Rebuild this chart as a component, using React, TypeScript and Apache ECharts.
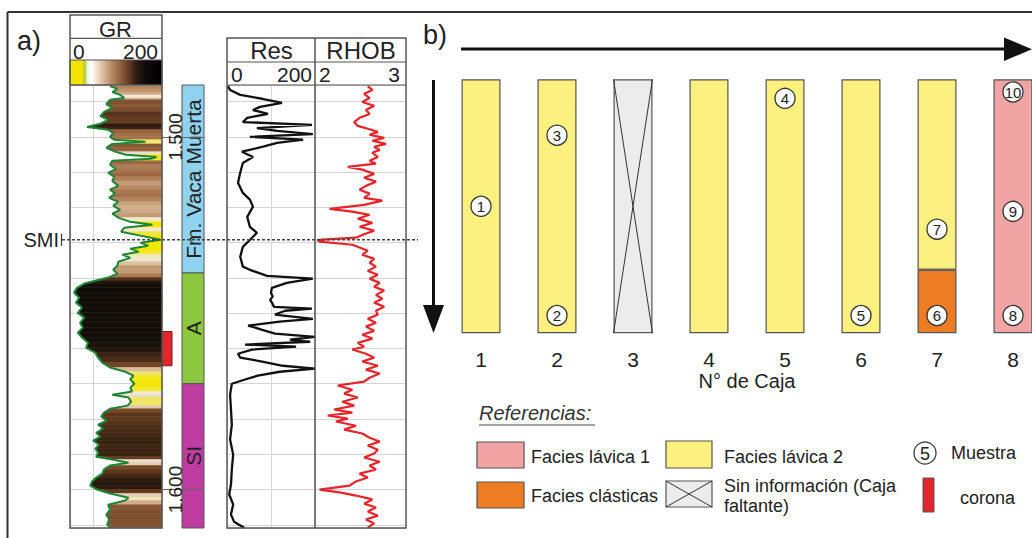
import React, { useEffect, useRef } from 'react';
import * as echarts from 'echarts';

const FONT = '"Liberation Sans", Arial, Helvetica, sans-serif';

// ---- depth axis (m) ----
const DEPTH_MIN = 1485.3;
const DEPTH_MAX = 1610.9;
const DEPTH_LABELS = [1500, 1600];
const SMI_DEPTH = 1529.2;

// ---- GR log (API) ----
const GR_DEPTH = [1485.6, 1486.4, 1487.3, 1488.1, 1489.0, 1489.5, 1490.7, 1491.8, 1492.9, 1494.1, 1495.2, 1496.3, 1497.2, 1498.0, 1498.9, 1500.0, 1500.8, 1501.4, 1502.0, 1503.1, 1504.2, 1505.1, 1505.7, 1506.2, 1506.8, 1507.9, 1509.1, 1510.2, 1511.3, 1512.5, 1513.9, 1515.0, 1516.1, 1517.3, 1518.4, 1519.5, 1520.7, 1521.8, 1522.9, 1524.1, 1524.9, 1525.8, 1526.9, 1528.0, 1529.2, 1530.0, 1530.9, 1531.7, 1532.6, 1533.4, 1534.3, 1535.4, 1536.5, 1537.7, 1538.8, 1539.9, 1540.8, 1541.6, 1542.8, 1544.2, 1545.6, 1547.0, 1548.4, 1549.9, 1551.3, 1552.7, 1554.1, 1555.5, 1556.9, 1558.4, 1559.8, 1561.2, 1562.6, 1564.0, 1565.4, 1566.6, 1567.7, 1568.8, 1570.0, 1571.1, 1572.2, 1573.1, 1573.9, 1575.1, 1576.2, 1577.1, 1578.2, 1579.3, 1580.5, 1581.6, 1582.7, 1583.9, 1585.0, 1586.1, 1587.3, 1588.4, 1589.5, 1590.7, 1591.5, 1592.4, 1593.2, 1594.3, 1595.5, 1596.6, 1597.7, 1598.9, 1600.0, 1601.1, 1602.3, 1603.1, 1604.3, 1605.7, 1607.1, 1608.5, 1609.9, 1610.8];
const GR_VALUE = [113, 97, 108, 91, 82, 113, 121, 108, 126, 134, 117, 134, 163, 117, 106, 113, 104, 36, 108, 121, 102, 78, 12, 25, 108, 113, 100, 117, 104, 108, 95, 113, 102, 115, 95, 106, 91, 108, 95, 69, 21, 82, 89, 47, 3, 47, 30, 69, 51, 86, 69, 95, 97, 106, 97, 117, 145, 169, 185, 191, 180, 187, 174, 183, 169, 178, 172, 183, 174, 161, 165, 145, 139, 130, 113, 80, 62, 69, 60, 69, 65, 108, 73, 67, 75, 113, 126, 132, 121, 139, 128, 143, 134, 150, 137, 145, 139, 143, 108, 73, 113, 126, 130, 143, 152, 156, 141, 113, 73, 80, 117, 113, 121, 115, 119, 113];

// ---- Resistivity (ohm.m) ----
const RES_DEPTH = [1485.6, 1486.7, 1488.1, 1489.2, 1490.4, 1491.5, 1492.4, 1493.5, 1494.6, 1495.8, 1496.6, 1497.5, 1498.3, 1499.2, 1500.0, 1500.8, 1501.7, 1502.8, 1504.2, 1505.7, 1507.4, 1510.2, 1513.0, 1515.9, 1517.8, 1519.8, 1522.7, 1525.5, 1527.2, 1528.6, 1531.2, 1534.0, 1536.8, 1537.7, 1539.4, 1540.2, 1541.4, 1542.8, 1544.2, 1545.3, 1546.2, 1547.0, 1548.2, 1548.7, 1549.3, 1550.4, 1551.6, 1552.4, 1553.5, 1554.7, 1555.8, 1556.7, 1557.5, 1558.1, 1558.9, 1559.5, 1560.3, 1561.5, 1562.6, 1563.7, 1564.9, 1565.7, 1566.6, 1567.7, 1568.8, 1570.0, 1573.1, 1577.3, 1581.6, 1585.8, 1590.1, 1594.3, 1598.6, 1601.4, 1604.2, 1607.1, 1609.1, 1610.8];
const RES_VALUE = [2, 7, 30, 80, 125, 75, 59, 93, 46, 36, 193, 68, 114, 195, 52, 173, 114, 82, 34, 59, 36, 30, 25, 36, 52, 59, 46, 52, 68, 57, 36, 30, 36, 52, 91, 195, 136, 102, 100, 104, 98, 102, 107, 193, 132, 109, 195, 120, 48, 80, 109, 200, 143, 189, 41, 157, 57, 25, 30, 80, 127, 200, 120, 70, 41, 11, 7, 9, 11, 7, 14, 11, 9, 5, 14, 9, 16, 39];

// ---- Bulk density (g/cm3) ----
const RHOB_DEPTH = [1485.6, 1486.7, 1487.8, 1489.0, 1490.1, 1491.2, 1492.4, 1493.5, 1494.6, 1495.8, 1496.9, 1497.7, 1498.6, 1499.4, 1500.3, 1501.1, 1502.0, 1502.8, 1503.7, 1504.5, 1505.7, 1506.8, 1507.6, 1508.5, 1509.3, 1510.5, 1511.6, 1512.7, 1513.9, 1515.0, 1516.1, 1517.3, 1518.1, 1519.3, 1520.4, 1521.2, 1522.1, 1523.2, 1524.4, 1525.5, 1526.6, 1527.8, 1528.6, 1529.2, 1529.7, 1530.6, 1531.4, 1532.3, 1533.4, 1534.6, 1535.7, 1536.8, 1538.0, 1539.1, 1540.2, 1541.4, 1542.5, 1543.6, 1544.8, 1545.9, 1547.0, 1548.2, 1549.3, 1550.4, 1551.6, 1552.7, 1553.8, 1555.0, 1556.1, 1557.2, 1558.4, 1559.5, 1560.3, 1561.5, 1562.6, 1563.7, 1564.9, 1566.0, 1567.1, 1568.3, 1569.4, 1570.5, 1571.7, 1572.8, 1573.9, 1575.1, 1576.2, 1577.3, 1578.2, 1579.0, 1579.9, 1580.7, 1581.9, 1583.0, 1584.1, 1585.3, 1586.4, 1587.5, 1588.7, 1589.8, 1590.9, 1592.1, 1593.2, 1594.3, 1595.5, 1596.6, 1597.7, 1598.9, 1600.0, 1600.8, 1601.7, 1602.8, 1604.0, 1605.1, 1606.2, 1607.4, 1608.5, 1609.6, 1610.8];
const RHOB_VALUE = [2.58, 2.63, 2.54, 2.60, 2.52, 2.65, 2.56, 2.60, 2.49, 2.43, 2.47, 2.58, 2.69, 2.60, 2.76, 2.63, 2.78, 2.65, 2.71, 2.63, 2.69, 2.60, 2.67, 2.36, 2.52, 2.65, 2.54, 2.67, 2.56, 2.49, 2.60, 2.54, 2.74, 2.54, 2.16, 2.41, 2.60, 2.47, 2.63, 2.49, 2.65, 2.52, 2.45, 2.03, 2.05, 2.41, 2.49, 2.58, 2.52, 2.65, 2.60, 2.67, 2.58, 2.69, 2.60, 2.71, 2.65, 2.76, 2.67, 2.74, 2.65, 2.76, 2.67, 2.69, 2.58, 2.67, 2.56, 2.65, 2.52, 2.63, 2.47, 2.54, 2.41, 2.56, 2.65, 2.52, 2.69, 2.56, 2.71, 2.60, 2.54, 2.25, 2.41, 2.32, 2.47, 2.30, 2.43, 2.21, 2.41, 2.14, 2.36, 2.23, 2.45, 2.32, 2.52, 2.60, 2.71, 2.58, 2.69, 2.65, 2.54, 2.71, 2.60, 2.67, 2.49, 2.58, 2.45, 2.38, 2.05, 2.27, 2.45, 2.63, 2.54, 2.67, 2.58, 2.69, 2.56, 2.65, 2.58];

// ---- formations / core ----
const FORMATION_NAMES = ['Fm. Vaca Muerta', 'A', 'SI'];
const FORMATION_TOP = [1485.3, 1538.6, 1570.0];
const FORMATION_BASE = [1538.6, 1570.0, 1610.9];
const FORMATION_COLORS = ['#8fd3f1', '#8dc63f', '#bf3da0'];
const CORONA_TOP = 1555.2;
const CORONA_BASE = 1564.9;

// ---- core boxes (b) : % of box length from top ----
const BOXES = ['1', '2', '3', '4', '5', '6', '7', '8'];
const LAVA2 = [100, 100, '-', 100, 100, 100, 75, '-'];
const CLASTIC = ['-', '-', '-', '-', '-', '-', 25, '-'];
const MISSING = ['-', '-', 100, '-', '-', '-', '-', '-'];
const LAVA1 = ['-', '-', '-', '-', '-', '-', '-', 100];
const SAMPLE_ID = [1, 2, 3, 4, 5, 6, 7, 8, 9, 10];
const SAMPLE_BOX = ['1', '2', '2', '5', '6', '7', '7', '8', '8', '8'];
const SAMPLE_POS = [50, 93, 22, 7.5, 93, 93, 59, 93, 52, 5];

const C_LAVA1 = '#f2a3a3';
const C_LAVA2 = '#fcf07e';
const C_CLASTIC = '#ee7c22';
const C_MISSING = '#ececec';

const GR_STOPS: [number, string][] = [
  [0, '#f3e600'], [64, '#f3e600'], [76, '#eee8b4'], [88, '#f2e9de'], [96, '#dcc0a0'],
  [104, '#b88a62'], [112, '#94603a'], [122, '#6e4224'], [134, '#4a2c16'], [150, '#2a1a0d'], [165, '#16100a'], [200, '#0c0806'],
];

function hexToRgb(h: string) {
  return [parseInt(h.slice(1, 3), 16), parseInt(h.slice(3, 5), 16), parseInt(h.slice(5, 7), 16)];
}
function grColor(v: number) {
  if (v <= GR_STOPS[0][0]) return GR_STOPS[0][1];
  for (let i = 1; i < GR_STOPS.length; i++) {
    if (v <= GR_STOPS[i][0]) {
      const [a, ca] = GR_STOPS[i - 1];
      const [b, cb] = GR_STOPS[i];
      const t = (v - a) / (b - a);
      const A = hexToRgb(ca), B = hexToRgb(cb);
      const c = A.map((x, k) => Math.round(x + (B[k] - x) * t));
      return `rgb(${c[0]},${c[1]},${c[2]})`;
    }
  }
  return GR_STOPS[GR_STOPS.length - 1][1];
}

const depthLabel = (v: number) => {
  const s = String(Math.round(v));
  return s.slice(0, s.length - 3) + '.' + s.slice(-3);
};

const txt = (id: string, x: number, y: number, text: string, fontSize: number, extra: any = {}) => ({
  id, type: 'text', x, y, z: 100,
  style: { text, fontSize, fontFamily: FONT, fill: '#222', align: 'left', verticalAlign: 'middle', ...extra },
});
const ln = (id: string, x1: number, y1: number, x2: number, y2: number, stroke = '#555', lineWidth = 1.2, extra: any = {}) => ({
  id, type: 'line', z: 100, shape: { x1, y1, x2, y2 }, style: { stroke, lineWidth, ...extra },
});
const rc = (id: string, x: number, y: number, w: number, h: number, fill: any, stroke = '#555', lineWidth = 1.2, z = 100) => ({
  id, type: 'rect', z, shape: { x, y, width: w, height: h }, style: { fill, stroke, lineWidth },
});

function depthAxis(gridIndex: number) {
  return {
    gridIndex, type: 'value', min: DEPTH_MIN, max: DEPTH_MAX, inverse: true,
    splitNumber: 12, minInterval: 10, maxInterval: 10,
    axisLine: { show: false }, axisTick: { show: false }, axisLabel: { show: false },
    splitLine: { show: true, lineStyle: { color: '#d8d2d2', width: 1 } },
  };
}

function buildOption() {
  const grBar = new echarts.graphic.LinearGradient(0, 0, 1, 0, [
    { offset: 0, color: '#f5e400' }, { offset: 0.13, color: '#f5e400' }, { offset: 0.16, color: '#a8cc3c' },
    { offset: 0.19, color: '#eef3da' }, { offset: 0.23, color: '#ffffff' }, { offset: 0.3, color: '#efdcc8' },
    { offset: 0.45, color: '#b88a64' }, { offset: 0.6, color: '#7a4b2a' }, { offset: 0.72, color: '#2e1c0f' },
    { offset: 0.82, color: '#0d0907' }, { offset: 1, color: '#000000' },
  ]);

  const graphics: any[] = [
    ln('frameTop', 7.5, 12, 1032, 12, '#333', 2),
    ln('frameLeft', 7.5, 12, 7.5, 538, '#333', 2),
    txt('labA', 17, 41, 'a)', 27),
    txt('labB', 423, 35, 'b)', 27),
    // GR header
    rc('grBar', 70, 60, 92, 25, grBar, '#555', 1),
    rc('grBox', 70, 15, 92, 513, 'none', '#555', 1.5),
    ln('grL1', 70, 38.3, 162, 38.3),
    ln('grL3', 70, 85, 162, 85),
    txt('grT', 115.5, 29, 'GR', 22, { align: 'center' }),
    txt('gr0', 73, 51, '0', 21),
    txt('gr200', 158, 51, '200', 21, { align: 'right' }),
    // Res / RHOB header
    rc('rrBox', 227, 38, 179, 490, 'none', '#555', 1.5),
    ln('rrL1', 227, 62, 406, 62),
    ln('rrL2', 227, 85, 406, 85),
    ln('rrDiv', 315, 38, 315, 528, '#555', 1.5),
    txt('resT', 271.5, 50, 'Res', 24, { align: 'center' }),
    txt('rhobT', 361, 50, 'RHOB', 24, { align: 'center' }),
    txt('res0', 231, 74, '0', 21),
    txt('res200', 312, 74, '200', 21, { align: 'right' }),
    txt('rhob2', 319, 74, '2', 21),
    txt('rhob3', 400, 74, '3', 21, { align: 'right' }),
    // arrows (b)
    ln('hArrow', 461, 49, 1008, 49, '#111', 3),
    { id: 'hHead', type: 'polygon', z: 100, shape: { points: [[1004, 37.5], [1004, 61], [1032, 49.2]] }, style: { fill: '#111' } },
    ln('vArrow', 433.5, 80, 433.5, 310, '#111', 3),
    { id: 'vHead', type: 'polygon', z: 100, shape: { points: [[423, 305], [444, 305], [433.5, 333]] }, style: { fill: '#111' } },
    // legend
    txt('refT', 479, 413, 'Referencias:', 20, { fontStyle: 'italic', fill: '#333' }),
    ln('refU', 479, 425, 595, 425, '#444', 1),
    rc('lgPink', 477, 442, 47, 26, C_LAVA1),
    txt('lgPinkT', 531, 457, 'Facies lávica 1', 18),
    rc('lgYel', 666, 441, 46, 27, C_LAVA2),
    txt('lgYelT', 724, 457, 'Facies lávica 2', 18),
    { id: 'lgCirc', type: 'circle', z: 100, shape: { cx: 925, cy: 453, r: 11 }, style: { fill: '#fff', stroke: '#333', lineWidth: 1.2 } },
    txt('lgCircT', 925, 454, '5', 18, { align: 'center' }),
    txt('lgCircL', 951, 453, 'Muestra', 18),
    rc('lgOra', 477, 482, 47, 26, C_CLASTIC),
    txt('lgOraT', 531, 496, 'Facies clásticas', 18),
    rc('lgGray', 666, 481, 46, 26, C_MISSING),
    ln('lgX1', 666, 481, 712, 507, '#333', 1),
    ln('lgX2', 712, 481, 666, 507, '#333', 1),
    txt('lgGrayT1', 724, 486, 'Sin información (Caja', 18),
    txt('lgGrayT2', 724, 506, 'faltante)', 18),
    rc('lgRed', 923, 478, 11, 34, '#e3262b', '#555', 1),
    txt('lgRedT', 960, 498, 'corona', 18),
  ];

  const option: any = {
    animation: false,
    backgroundColor: '#ffffff',
    textStyle: { fontFamily: FONT },
    grid: [
      { left: 70, top: 85, width: 92, height: 443 },
      { left: 227, top: 85, width: 88, height: 443 },
      { left: 315, top: 85, width: 91, height: 443 },
      { left: 162, top: 85, width: 42, height: 443 },
      { left: 443, top: 79.3, width: 608, height: 254 },
    ],
    xAxis: [
      { gridIndex: 0, type: 'value', min: 0, max: 200, inverse: true, interval: 150, axisLine: { show: false }, axisTick: { show: false }, axisLabel: { show: false }, splitLine: { show: true, lineStyle: { color: '#d8d2d2' } } },
      { gridIndex: 1, type: 'value', min: 0, max: 200, interval: 100, axisLine: { show: false }, axisTick: { show: false }, axisLabel: { show: false }, splitLine: { show: true, lineStyle: { color: '#d8d8d8' } } },
      { gridIndex: 2, type: 'value', min: 2, max: 3, axisLine: { show: false }, axisTick: { show: false }, axisLabel: { show: false }, splitLine: { show: false } },
      { gridIndex: 3, type: 'value', min: 0, max: 42, show: false },
      {
        gridIndex: 4, type: 'category', data: BOXES,
        axisLine: { show: false }, axisTick: { show: false },
        axisLabel: { fontSize: 21, color: '#222', margin: 16, fontFamily: FONT },
        name: 'N° de Caja', nameLocation: 'middle', nameGap: 36,
        nameTextStyle: { fontSize: 20, color: '#222', fontFamily: FONT },
      },
    ],
    yAxis: [
      depthAxis(0),
      depthAxis(1),
      depthAxis(2),
      {
        gridIndex: 3, type: 'value', min: DEPTH_MIN, max: DEPTH_MAX, inverse: true, position: 'left', z: 10,
        axisLine: { show: false }, splitLine: { show: false },
        axisTick: { show: true, inside: true, length: 42, customValues: DEPTH_LABELS, lineStyle: { color: '#666', width: 1 } },
        axisLabel: { show: true, inside: true, rotate: 90, margin: 4, customValues: DEPTH_LABELS, formatter: depthLabel, fontSize: 19, color: '#222', fontFamily: FONT },
      },
      { gridIndex: 4, type: 'value', min: 0, max: 100, inverse: true, show: false },
    ],
    series: [
      {
        type: 'custom', xAxisIndex: 0, yAxisIndex: 0, silent: true, z: 2, clip: true,
        data: GR_DEPTH.slice(0, -1).map((d, i) => [GR_VALUE[i], d, GR_VALUE[i + 1], GR_DEPTH[i + 1]]),
        renderItem: (params: any, api: any) => {
          const v0 = api.value(0), d0 = api.value(1), v1 = api.value(2), d1 = api.value(3);
          const p0 = api.coord([v0, d0]);
          const p1 = api.coord([v1, d1]);
          const e0 = api.coord([0, d0]);
          const e1 = api.coord([0, d1]);
          const c = grColor((v0 + v1) / 2);
          return { type: 'polygon', shape: { points: [p0, p1, e1, e0] }, style: { fill: c, stroke: c, lineWidth: 0.6 } };
        },
      },
      {
        type: 'line', xAxisIndex: 0, yAxisIndex: 0, showSymbol: false, silent: true, z: 3,
        data: GR_DEPTH.map((d, i) => [GR_VALUE[i], d]),
        lineStyle: { color: '#1c8637', width: 2 },
      },
      {
        type: 'line', xAxisIndex: 1, yAxisIndex: 1, showSymbol: false, silent: true, z: 3,
        data: RES_DEPTH.map((d, i) => [RES_VALUE[i], d]),
        lineStyle: { color: '#111111', width: 2.3 },
      },
      {
        type: 'line', xAxisIndex: 2, yAxisIndex: 2, showSymbol: false, silent: true, z: 3,
        data: RHOB_DEPTH.map((d, i) => [RHOB_VALUE[i], d]),
        lineStyle: { color: '#e8232a', width: 2.2 },
      },
      {
        type: 'custom', xAxisIndex: 3, yAxisIndex: 3, silent: true, z: 2,
        data: FORMATION_NAMES.map((n, i) => [FORMATION_TOP[i], FORMATION_BASE[i], i]),
        renderItem: (params: any, api: any) => {
          const i = api.value(2);
          const p0 = api.coord([20, api.value(0)]);
          const p1 = api.coord([42, api.value(1)]);
          return {
            type: 'group',
            children: [
              { type: 'rect', shape: { x: p0[0], y: p0[1], width: p1[0] - p0[0], height: p1[1] - p0[1] }, style: { fill: FORMATION_COLORS[i], stroke: '#555', lineWidth: 1 } },
              { type: 'text', x: (p0[0] + p1[0]) / 2 + 0.5, y: (p0[1] + p1[1]) / 2, rotation: Math.PI / 2, style: { text: FORMATION_NAMES[i], fontSize: 21, fontFamily: FONT, fill: '#222', align: 'center', verticalAlign: 'middle' } },
            ],
          };
        },
      },
      {
        type: 'custom', xAxisIndex: 3, yAxisIndex: 3, silent: true, z: 2,
        data: [[CORONA_TOP, CORONA_BASE]],
        renderItem: (params: any, api: any) => {
          const p0 = api.coord([0.5, api.value(0)]);
          const p1 = api.coord([10, api.value(1)]);
          return { type: 'rect', shape: { x: p0[0], y: p0[1], width: p1[0] - p0[0], height: p1[1] - p0[1] }, style: { fill: '#e3262b', stroke: '#7a1a1a', lineWidth: 1 } };
        },
      },
      { type: 'bar', name: 'Facies lávica 2', xAxisIndex: 4, yAxisIndex: 4, stack: 'box', barWidth: 39, silent: true, data: LAVA2, itemStyle: { color: C_LAVA2, borderColor: '#555', borderWidth: 1.2 } },
      { type: 'bar', name: 'Facies clásticas', xAxisIndex: 4, yAxisIndex: 4, stack: 'box', barWidth: 39, silent: true, data: CLASTIC, itemStyle: { color: C_CLASTIC, borderColor: '#555', borderWidth: 1.2 } },
      { type: 'bar', name: 'Sin información', xAxisIndex: 4, yAxisIndex: 4, stack: 'box', barWidth: 39, silent: true, data: MISSING, itemStyle: { color: C_MISSING, borderColor: '#555', borderWidth: 1.2 } },
      { type: 'bar', name: 'Facies lávica 1', xAxisIndex: 4, yAxisIndex: 4, stack: 'box', barWidth: 39, silent: true, data: LAVA1, itemStyle: { color: C_LAVA1, borderColor: '#555', borderWidth: 1.2 } },
      {
        type: 'custom', xAxisIndex: 4, yAxisIndex: 4, silent: true, z: 4,
        data: BOXES.map((b, i) => (MISSING[i] !== '-' ? [b, 0, MISSING[i]] : null)).filter(Boolean),
        renderItem: (params: any, api: any) => {
          const t = api.coord([api.value(0), api.value(1)]);
          const b = api.coord([api.value(0), api.value(2)]);
          const h = 19.5;
          return {
            type: 'group',
            children: [
              { type: 'line', shape: { x1: t[0] - h, y1: t[1], x2: b[0] + h, y2: b[1] }, style: { stroke: '#333', lineWidth: 1 } },
              { type: 'line', shape: { x1: t[0] + h, y1: t[1], x2: b[0] - h, y2: b[1] }, style: { stroke: '#333', lineWidth: 1 } },
            ],
          };
        },
      },
      {
        type: 'scatter', xAxisIndex: 4, yAxisIndex: 4, silent: true, z: 5,
        symbol: 'circle', symbolSize: 20,
        data: SAMPLE_ID.map((id, i) => [SAMPLE_BOX[i], SAMPLE_POS[i], id]),
        itemStyle: { color: '#ffffff', borderColor: '#333', borderWidth: 1.3, opacity: 1 },
        label: { show: true, position: 'inside', formatter: (p: any) => String(p.value[2]), fontSize: 15, color: '#222', fontFamily: FONT },
      },
    ],
    graphic: { elements: graphics },
  };
  return option;
}

export default function App() {
  const ref = useRef<HTMLDivElement>(null);
  useEffect(() => {
    if (!ref.current) return;
    const chart = echarts.init(ref.current, null, { renderer: 'svg' });
    chart.setOption(buildOption());
    const ySmi = chart.convertToPixel({ yAxisIndex: 0 } as any, SMI_DEPTH) as unknown as number;
    chart.setOption({
      graphic: {
        elements: [
          { id: 'smiLine', type: 'line', z: 101, shape: { x1: 62, y1: ySmi, x2: 418, y2: ySmi }, style: { stroke: '#444', lineWidth: 1.5, lineDash: [3, 2] } },
          { id: 'smiTick', type: 'line', z: 101, shape: { x1: 61.5, y1: ySmi - 6, x2: 61.5, y2: ySmi + 6 }, style: { stroke: '#333', lineWidth: 1.2 } },
          { id: 'smiText', type: 'text', z: 101, x: 59, y: ySmi, style: { text: 'SMI', fontSize: 20, fontFamily: FONT, fill: '#222', align: 'right', verticalAlign: 'middle' } },
        ],
      },
    });
    return () => chart.dispose();
  }, []);
  return <div ref={ref} style={{ position: 'fixed', left: 0, top: 0, width: 1100, height: 538, background: '#fff' }} />;
}
